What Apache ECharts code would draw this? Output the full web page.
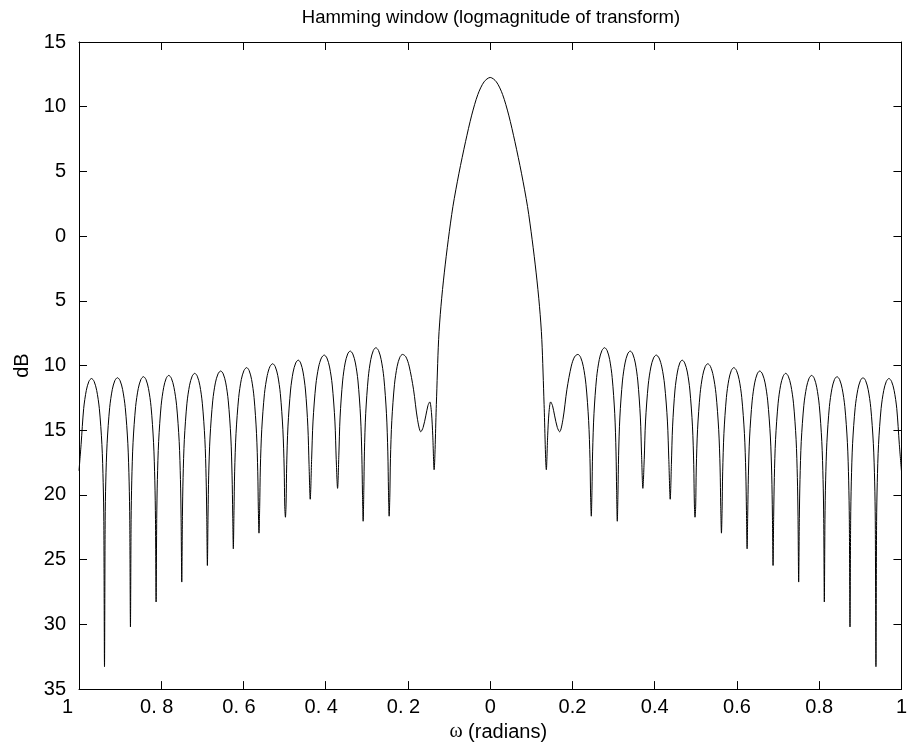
<!DOCTYPE html>
<html>
<head>
<meta charset="utf-8">
<title>Hamming window</title>
<script src="https://cdn.jsdelivr.net/npm/echarts@6/dist/echarts.min.js"></script>
<style>
  html, body { margin: 0; padding: 0; background: #fff; }
  #chart { width: 910px; height: 747px; }
</style>
</head>
<body>
<div id="chart"></div>
<script>
// tick labels as printed on the original figure (minus signs are missing there)
const xTickLabels = ['1', '0. 8', '0. 6', '0. 4', '0. 2', '0', '0.2', '0.4', '0.6', '0.8', '1'];
const yTickLabels = ['35', '30', '25', '20', '15', '10', '5', '0', '5', '10', '15'];

// [omega, dB], left side lobes (-1 .. main lobe)
const leftSidelobes = [
  [-1.0, -18.13], [-0.9949, -16.1], [-0.9886, -13.31], [-0.9822, -11.92], [-0.9759, -11.22], [-0.9696, -11.0], [-0.9633, -11.22], [-0.957, -11.92], [-0.9506, -13.31], [-0.9443, -16.1], [-0.9412, -19.05], [-0.9396, -22.05],
  [-0.938, -33.27], [-0.9364, -21.99], [-0.9349, -18.99], [-0.9317, -16.04], [-0.9254, -13.25], [-0.9191, -11.86], [-0.9128, -11.16], [-0.9065, -10.94], [-0.9002, -11.16], [-0.8939, -11.86], [-0.8875, -13.25], [-0.8812, -16.04], [-0.8781, -18.99], [-0.8765, -21.99],
  [-0.8749, -30.2], [-0.8733, -21.91], [-0.8717, -18.91], [-0.8686, -15.96], [-0.8623, -13.17], [-0.8559, -11.78], [-0.8496, -11.08], [-0.8433, -10.86], [-0.8371, -11.08], [-0.831, -11.78], [-0.8248, -13.17], [-0.8187, -15.96], [-0.8156, -18.91], [-0.814, -21.91],
  [-0.8125, -28.27], [-0.811, -21.81], [-0.8094, -18.81], [-0.8063, -15.86], [-0.8002, -13.07], [-0.794, -11.68], [-0.7879, -10.98], [-0.7817, -10.76], [-0.7754, -10.98], [-0.7691, -11.68], [-0.7627, -13.07], [-0.7564, -15.86], [-0.7533, -18.81], [-0.7517, -21.81],
  [-0.7501, -26.73], [-0.7485, -21.65], [-0.7469, -18.65], [-0.7438, -15.7], [-0.7375, -12.91], [-0.7311, -11.52], [-0.7248, -10.82], [-0.7185, -10.6], [-0.7124, -10.82], [-0.7062, -11.52], [-0.7001, -12.91], [-0.6939, -15.7], [-0.6909, -18.65], [-0.6893, -21.65],
  [-0.6878, -25.45], [-0.6862, -21.47], [-0.6846, -18.47], [-0.6813, -15.52], [-0.6748, -12.73], [-0.6684, -11.34], [-0.6619, -10.64], [-0.6554, -10.42], [-0.6493, -10.64], [-0.6431, -11.34], [-0.637, -12.73], [-0.6308, -15.52], [-0.6278, -18.47], [-0.6262, -21.47],
  [-0.6247, -24.16], [-0.6231, -21.21], [-0.6215, -18.21], [-0.6182, -15.26], [-0.6117, -12.47], [-0.6053, -11.08], [-0.5988, -10.38], [-0.5923, -10.16], [-0.5863, -10.38], [-0.5803, -11.08], [-0.5743, -12.47], [-0.5683, -15.26], [-0.5653, -18.21], [-0.5638, -21.21],
  [-0.5623, -22.95], [-0.5606, -20.91], [-0.559, -17.91], [-0.5556, -14.96], [-0.549, -12.17], [-0.5423, -10.78], [-0.5357, -10.08], [-0.529, -9.86], [-0.5228, -10.08], [-0.5166, -10.78], [-0.5104, -12.17], [-0.5042, -14.96], [-0.5011, -17.91], [-0.4996, -20.91],
  [-0.498, -21.72], [-0.4964, -20.63], [-0.4949, -17.63], [-0.4918, -14.68], [-0.4855, -11.89], [-0.4793, -10.5], [-0.473, -9.8], [-0.4668, -9.58], [-0.461, -9.8], [-0.4552, -10.5], [-0.4493, -11.89], [-0.4435, -14.68], [-0.4406, -17.63],
  [-0.4377, -20.33], [-0.4343, -17.24], [-0.4309, -14.29], [-0.4241, -11.5], [-0.4173, -10.11], [-0.4105, -9.41], [-0.4037, -9.19], [-0.3972, -9.41], [-0.3907, -10.11], [-0.3842, -11.5], [-0.3777, -14.29], [-0.3745, -17.24],
  [-0.3712, -19.49], [-0.3681, -16.93], [-0.3651, -13.98], [-0.3589, -11.19], [-0.3528, -9.8], [-0.3466, -9.1], [-0.3405, -8.88], [-0.3342, -9.1], [-0.3279, -9.8], [-0.3216, -11.19], [-0.3153, -13.98], [-0.3122, -16.93], [-0.3106, -19.93],
  [-0.309, -22.03], [-0.3074, -19.67], [-0.3059, -16.67], [-0.3028, -13.72], [-0.2966, -10.93], [-0.2905, -9.54], [-0.2843, -8.84], [-0.2781, -8.62], [-0.2716, -8.84], [-0.2652, -9.54], [-0.2587, -10.93], [-0.2523, -13.72], [-0.249, -16.67], [-0.2474, -19.67],
  [-0.2458, -21.64], [-0.2442, -20.19], [-0.2426, -17.19], [-0.2393, -14.24], [-0.2328, -11.45], [-0.2263, -10.06], [-0.2198, -9.36], [-0.2133, -9.14], [-0.2052, -9.32], [-0.1972, -10.04], [-0.1866, -11.83], [-0.1769, -14.15],
  [-0.1688, -15.12], [-0.1632, -14.79], [-0.1567, -13.89], [-0.1515, -13.1], [-0.147, -12.81], [-0.1429, -13.63], [-0.1397, -15.43]
];

// main lobe, null to null
const mainLobe = [
  [-0.1365, -18.05], [-0.131, -13.0], [-0.1255, -8.0], [-0.1198, -5.42], [-0.1117, -2.84], [-0.102, -0.28], [-0.0907, 2.29], [-0.076, 4.86], [-0.06, 7.3], [-0.045, 9.35], [-0.03, 10.95], [-0.015, 11.92],
  [0, 12.26],
  [0.015, 11.92], [0.03, 10.95], [0.045, 9.35], [0.06, 7.3], [0.076, 4.86], [0.0907, 2.29], [0.102, -0.28], [0.1117, -2.84], [0.1198, -5.42], [0.1255, -8.0], [0.131, -13.0], [0.1365, -18.05]
];

// right side lobes (main lobe .. 1)
const rightSidelobes = [
  [0.1397, -15.43], [0.1429, -13.63], [0.147, -12.81], [0.1515, -13.1], [0.1567, -13.89], [0.1632, -14.79], [0.1688, -15.12],
  [0.1769, -14.15], [0.1866, -11.83], [0.1972, -10.04], [0.2052, -9.32], [0.2133, -9.14], [0.2198, -9.36], [0.2263, -10.06], [0.2328, -11.45], [0.2393, -14.24], [0.2426, -17.19], [0.2442, -20.19],
  [0.2458, -21.64], [0.2474, -19.67], [0.249, -16.67], [0.2523, -13.72], [0.2587, -10.93], [0.2652, -9.54], [0.2716, -8.84], [0.2781, -8.62], [0.2843, -8.84], [0.2905, -9.54], [0.2966, -10.93], [0.3028, -13.72], [0.3059, -16.67], [0.3074, -19.67],
  [0.309, -22.03], [0.3106, -19.93], [0.3122, -16.93], [0.3153, -13.98], [0.3216, -11.19], [0.3279, -9.8], [0.3342, -9.1], [0.3405, -8.88], [0.3466, -9.1], [0.3528, -9.8], [0.3589, -11.19], [0.3651, -13.98], [0.3681, -16.93],
  [0.3712, -19.49], [0.3745, -17.24], [0.3777, -14.29], [0.3842, -11.5], [0.3907, -10.11], [0.3972, -9.41], [0.4037, -9.19], [0.4105, -9.41], [0.4173, -10.11], [0.4241, -11.5], [0.4309, -14.29], [0.4343, -17.24],
  [0.4377, -20.33], [0.4406, -17.63], [0.4435, -14.68], [0.4493, -11.89], [0.4552, -10.5], [0.461, -9.8], [0.4668, -9.58], [0.473, -9.8], [0.4793, -10.5], [0.4855, -11.89], [0.4918, -14.68], [0.4949, -17.63], [0.4964, -20.63],
  [0.498, -21.72], [0.4996, -20.91], [0.5011, -17.91], [0.5042, -14.96], [0.5104, -12.17], [0.5166, -10.78], [0.5228, -10.08], [0.529, -9.86], [0.5357, -10.08], [0.5423, -10.78], [0.549, -12.17], [0.5556, -14.96], [0.559, -17.91], [0.5606, -20.91],
  [0.5623, -22.95], [0.5638, -21.21], [0.5653, -18.21], [0.5683, -15.26], [0.5743, -12.47], [0.5803, -11.08], [0.5863, -10.38], [0.5923, -10.16], [0.5988, -10.38], [0.6053, -11.08], [0.6117, -12.47], [0.6182, -15.26], [0.6215, -18.21], [0.6231, -21.21],
  [0.6247, -24.16], [0.6262, -21.47], [0.6278, -18.47], [0.6308, -15.52], [0.637, -12.73], [0.6431, -11.34], [0.6493, -10.64], [0.6554, -10.42], [0.6619, -10.64], [0.6684, -11.34], [0.6748, -12.73], [0.6813, -15.52], [0.6846, -18.47], [0.6862, -21.47],
  [0.6878, -25.45], [0.6893, -21.65], [0.6909, -18.65], [0.6939, -15.7], [0.7001, -12.91], [0.7062, -11.52], [0.7124, -10.82], [0.7185, -10.6], [0.7248, -10.82], [0.7311, -11.52], [0.7375, -12.91], [0.7438, -15.7], [0.7469, -18.65], [0.7485, -21.65],
  [0.7501, -26.73], [0.7517, -21.81], [0.7533, -18.81], [0.7564, -15.86], [0.7627, -13.07], [0.7691, -11.68], [0.7754, -10.98], [0.7817, -10.76], [0.7879, -10.98], [0.794, -11.68], [0.8002, -13.07], [0.8063, -15.86], [0.8094, -18.81], [0.811, -21.81],
  [0.8125, -28.27], [0.814, -21.91], [0.8156, -18.91], [0.8187, -15.96], [0.8248, -13.17], [0.831, -11.78], [0.8371, -11.08], [0.8433, -10.86], [0.8496, -11.08], [0.8559, -11.78], [0.8623, -13.17], [0.8686, -15.96], [0.8717, -18.91], [0.8733, -21.91],
  [0.8749, -30.2], [0.8765, -21.99], [0.8781, -18.99], [0.8812, -16.04], [0.8875, -13.25], [0.8939, -11.86], [0.9002, -11.16], [0.9065, -10.94], [0.9128, -11.16], [0.9191, -11.86], [0.9254, -13.25], [0.9317, -16.04], [0.9349, -18.99], [0.9364, -21.99],
  [0.938, -33.27], [0.9396, -22.05], [0.9412, -19.05], [0.9443, -16.1], [0.9506, -13.31], [0.957, -11.92], [0.9633, -11.22], [0.9696, -11.0], [0.9759, -11.22], [0.9822, -11.92], [0.9886, -13.31], [0.9949, -16.1], [1.0, -18.13]
];

const FONT = '"Liberation Sans", Arial, Helvetica, sans-serif';
const chart = echarts.init(document.getElementById('chart'), null, { renderer: 'canvas' });

const frameAxis = {
  type: 'value',
  axisLine: { show: true, onZero: false, lineStyle: { color: '#000', width: 1 } },
  axisTick: { show: true, inside: true, length: 8, lineStyle: { color: '#000', width: 1 } },
  splitLine: { show: false }
};

chart.setOption({
  animation: false,
  backgroundColor: '#fff',
  textStyle: { fontFamily: FONT },
  // title centred over the plot area, not the whole canvas
  graphic: [{
    type: 'text',
    x: 491,
    y: 8,
    silent: true,
    style: {
      text: 'Hamming window (logmagnitude of transform)',
      align: 'center',
      verticalAlign: 'top',
      fontFamily: FONT,
      fontSize: 18.5,
      fill: '#000'
    }
  }],
  grid: { left: 79, right: 8, top: 42, bottom: 56 },
  xAxis: [
    {
      ...frameAxis,
      position: 'bottom',
      min: -1, max: 1, interval: 0.2,
      axisLabel: {
        color: '#000', fontSize: 20, fontFamily: FONT, margin: 8,
        formatter: (v) => {
          const i = Math.round((v + 1) / 0.2);
          const s = xTickLabels[i];
          if (i === 0) return '{one|' + s + '}';
          if (i < 5) return '{neg|' + s + '}';
          return s;
        },
        rich: {
          one: { fontSize: 20, fontFamily: FONT, color: '#000', padding: [0, 23, 0, 0] },
          neg: { fontSize: 20, fontFamily: FONT, color: '#000', padding: [0, 9, 0, 0] }
        }
      },
      name: '{w|ω} (radians)',
      nameLocation: 'middle',
      nameGap: 31,
      nameTextStyle: {
        color: '#000', fontSize: 20, fontFamily: FONT, padding: [0, 0, 0, 16],
        rich: { w: { fontFamily: '"Liberation Serif", "DejaVu Serif", serif', fontSize: 20, color: '#000' } }
      }
    },
    {
      ...frameAxis,
      position: 'top',
      min: -1, max: 1, interval: 0.2,
      axisLabel: { show: false }
    }
  ],
  yAxis: [
    {
      ...frameAxis,
      position: 'left',
      min: -35, max: 15, interval: 5,
      axisLabel: {
        color: '#000', fontSize: 20, fontFamily: FONT, margin: 13,
        formatter: (v) => yTickLabels[Math.round((v + 35) / 5)]
      },
      name: 'dB',
      nameLocation: 'middle',
      nameGap: 47,
      nameTextStyle: { color: '#000', fontSize: 20, fontFamily: FONT }
    },
    {
      ...frameAxis,
      position: 'right',
      min: -35, max: 15, interval: 5,
      axisLabel: { show: false }
    }
  ],
  series: [{
    type: 'line',
    xAxisIndex: 0,
    yAxisIndex: 0,
    data: leftSidelobes.concat(mainLobe, rightSidelobes),
    showSymbol: false,
    smooth: 0.3,
    lineStyle: { color: '#000', width: 1 },
    silent: true
  }]
});
</script>
</body>
</html>
